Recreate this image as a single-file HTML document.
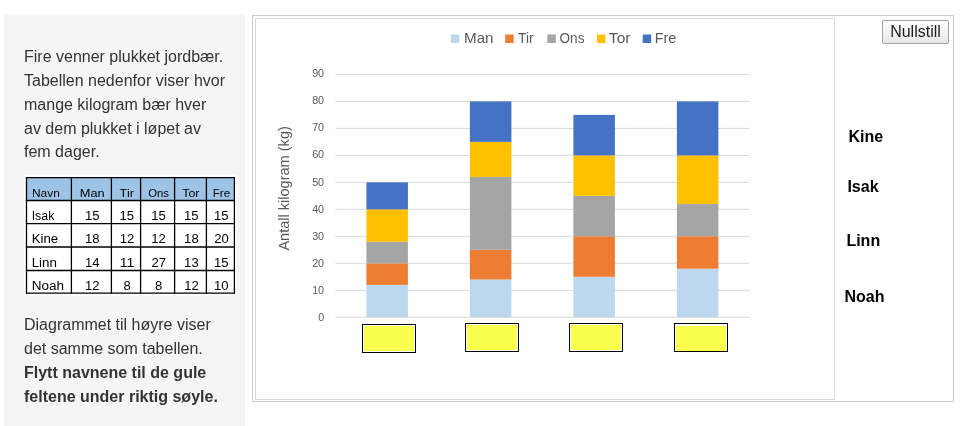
<!DOCTYPE html>
<html lang="nb"><head><meta charset="utf-8"><title>Jordbær</title>
<style>
html,body{margin:0;padding:0;background:#fff;}
body{width:962px;height:426px;overflow:hidden;position:relative;font-family:"Liberation Sans",Arial,sans-serif;color:#333;}
.panel{position:absolute;left:4px;top:15px;width:241px;height:430px;background:#f5f5f5;}
.p{position:absolute;left:24px;margin:0;font-size:16px;line-height:23.7px;white-space:nowrap;color:#333;}
.outer{position:absolute;left:252px;top:15px;width:700px;height:385px;border:1px solid #ccc;background:#fff;}
.inner{position:absolute;left:255px;top:18px;width:578px;height:380px;border:1px solid #d9d9d9;background:#fff;}
svg{position:absolute;left:0;top:0;font-family:"Liberation Sans",Arial,sans-serif;}
.btn{position:absolute;left:882px;top:20px;width:67px;height:24px;box-sizing:border-box;border:1px solid #a3a3a3;border-radius:2px;background:linear-gradient(#fefefe,#f4f4f4 50%,#e8e8e8);font:16px/22px "Liberation Sans",Arial,sans-serif;color:#1c1c1c;padding:0;text-align:center;}
.nm{position:absolute;font-weight:bold;font-size:16px;line-height:16px;color:#000;white-space:nowrap;}
</style></head><body>
<div class="panel"></div>
<p class="p" style="top:45.4px">Fire venner plukket jordbær.<br>Tabellen nedenfor viser hvor<br>mange kilogram bær hver<br>av dem plukket i løpet av<br>fem dager.</p>
<p class="p" style="top:313.4px">Diagrammet til høyre viser<br>det samme som tabellen.<br><b>Flytt navnene til de gule<br>feltene under riktig søyle.</b></p>
<div class="outer"></div>
<div class="inner"></div>
<svg width="962" height="426" viewBox="0 0 962 426">
<rect x="24" y="175" width="213" height="121" fill="#fff"/>
<rect x="26.5" y="177.6" width="207.9" height="22.900000000000006" fill="#9DC3E6"/>
<line x1="26.5" x2="26.5" y1="177.0" y2="293.70000000000005" stroke="#000" stroke-width="1.3"/>
<line x1="71.4" x2="71.4" y1="177.0" y2="293.70000000000005" stroke="#000" stroke-width="1.3"/>
<line x1="111.4" x2="111.4" y1="177.0" y2="293.70000000000005" stroke="#000" stroke-width="1.3"/>
<line x1="140.6" x2="140.6" y1="177.0" y2="293.70000000000005" stroke="#000" stroke-width="1.3"/>
<line x1="174.6" x2="174.6" y1="177.0" y2="293.70000000000005" stroke="#000" stroke-width="1.3"/>
<line x1="206.4" x2="206.4" y1="177.0" y2="293.70000000000005" stroke="#000" stroke-width="1.3"/>
<line x1="234.4" x2="234.4" y1="177.0" y2="293.70000000000005" stroke="#000" stroke-width="1.3"/>
<line x1="25.9" x2="235.0" y1="177.6" y2="177.6" stroke="#000" stroke-width="1.3"/>
<line x1="25.9" x2="235.0" y1="200.5" y2="200.5" stroke="#000" stroke-width="1.3"/>
<line x1="25.9" x2="235.0" y1="223.6" y2="223.6" stroke="#000" stroke-width="1.3"/>
<line x1="25.9" x2="235.0" y1="247" y2="247" stroke="#000" stroke-width="1.3"/>
<line x1="25.9" x2="235.0" y1="270.5" y2="270.5" stroke="#000" stroke-width="1.3"/>
<line x1="25.9" x2="235.0" y1="293.1" y2="293.1" stroke="#000" stroke-width="1.3"/>
<text x="32.02" y="196.70" font-size="10.6" fill="#000" textLength="27.75" lengthAdjust="spacingAndGlyphs">Navn</text>
<text x="79.85" y="196.70" font-size="10.6" fill="#000" textLength="24.88" lengthAdjust="spacingAndGlyphs">Man</text>
<text x="119.62" y="196.70" font-size="10.6" fill="#000" textLength="14.38" lengthAdjust="spacingAndGlyphs">Tir</text>
<text x="148.16" y="196.70" font-size="10.6" fill="#000" textLength="20.85" lengthAdjust="spacingAndGlyphs">Ons</text>
<text x="182.24" y="196.70" font-size="10.6" fill="#000" textLength="17.25" lengthAdjust="spacingAndGlyphs">Tor</text>
<text x="212.74" y="196.70" font-size="10.6" fill="#000" textLength="17.47" lengthAdjust="spacingAndGlyphs">Fre</text>
<text x="31.66" y="219.80" font-size="12" fill="#000" textLength="22.73" lengthAdjust="spacingAndGlyphs">Isak</text>
<text x="85.00" y="219.80" font-size="12" fill="#000" textLength="14.55" lengthAdjust="spacingAndGlyphs">15</text>
<text x="119.60" y="219.80" font-size="12" fill="#000" textLength="14.55" lengthAdjust="spacingAndGlyphs">15</text>
<text x="151.20" y="219.80" font-size="12" fill="#000" textLength="14.55" lengthAdjust="spacingAndGlyphs">15</text>
<text x="184.10" y="219.80" font-size="12" fill="#000" textLength="14.55" lengthAdjust="spacingAndGlyphs">15</text>
<text x="214.00" y="219.80" font-size="12" fill="#000" textLength="14.55" lengthAdjust="spacingAndGlyphs">15</text>
<text x="31.71" y="243.00" font-size="12" fill="#000" textLength="26.47" lengthAdjust="spacingAndGlyphs">Kine</text>
<text x="85.01" y="243.00" font-size="12" fill="#000" textLength="14.55" lengthAdjust="spacingAndGlyphs">18</text>
<text x="119.66" y="243.00" font-size="12" fill="#000" textLength="14.55" lengthAdjust="spacingAndGlyphs">12</text>
<text x="151.26" y="243.00" font-size="12" fill="#000" textLength="14.55" lengthAdjust="spacingAndGlyphs">12</text>
<text x="184.11" y="243.00" font-size="12" fill="#000" textLength="14.55" lengthAdjust="spacingAndGlyphs">18</text>
<text x="214.15" y="243.00" font-size="12" fill="#000" textLength="14.55" lengthAdjust="spacingAndGlyphs">20</text>
<text x="31.70" y="266.60" font-size="12" fill="#000" textLength="25.26" lengthAdjust="spacingAndGlyphs">Linn</text>
<text x="84.92" y="266.60" font-size="12" fill="#000" textLength="14.55" lengthAdjust="spacingAndGlyphs">14</text>
<text x="119.65" y="266.60" font-size="12" fill="#000" textLength="14.55" lengthAdjust="spacingAndGlyphs">11</text>
<text x="151.43" y="266.60" font-size="12" fill="#000" textLength="14.55" lengthAdjust="spacingAndGlyphs">27</text>
<text x="184.11" y="266.60" font-size="12" fill="#000" textLength="14.55" lengthAdjust="spacingAndGlyphs">13</text>
<text x="214.00" y="266.60" font-size="12" fill="#000" textLength="14.55" lengthAdjust="spacingAndGlyphs">15</text>
<text x="31.69" y="289.70" font-size="12" fill="#000" textLength="32.39" lengthAdjust="spacingAndGlyphs">Noah</text>
<text x="85.06" y="289.70" font-size="12" fill="#000" textLength="14.55" lengthAdjust="spacingAndGlyphs">12</text>
<text x="123.46" y="289.70" font-size="12" fill="#000" textLength="7.27" lengthAdjust="spacingAndGlyphs">8</text>
<text x="155.06" y="289.70" font-size="12" fill="#000" textLength="7.27" lengthAdjust="spacingAndGlyphs">8</text>
<text x="184.16" y="289.70" font-size="12" fill="#000" textLength="14.55" lengthAdjust="spacingAndGlyphs">12</text>
<text x="213.98" y="289.70" font-size="12" fill="#000" textLength="14.55" lengthAdjust="spacingAndGlyphs">10</text>
<line x1="335.4" x2="749.4" y1="317.25" y2="317.25" stroke="#d9d9d9" stroke-width="1"/>
<text x="318.13" y="321.00" font-size="11" fill="#595959" textLength="6.00" lengthAdjust="spacingAndGlyphs">0</text>
<line x1="335.4" x2="749.4" y1="290.27" y2="290.27" stroke="#d9d9d9" stroke-width="1"/>
<text x="312.13" y="293.91" font-size="11" fill="#595959" textLength="11.99" lengthAdjust="spacingAndGlyphs">10</text>
<line x1="335.4" x2="749.4" y1="263.29" y2="263.29" stroke="#d9d9d9" stroke-width="1"/>
<text x="312.13" y="266.82" font-size="11" fill="#595959" textLength="11.99" lengthAdjust="spacingAndGlyphs">20</text>
<line x1="335.4" x2="749.4" y1="236.31" y2="236.31" stroke="#d9d9d9" stroke-width="1"/>
<text x="312.13" y="239.73" font-size="11" fill="#595959" textLength="11.99" lengthAdjust="spacingAndGlyphs">30</text>
<line x1="335.4" x2="749.4" y1="209.33" y2="209.33" stroke="#d9d9d9" stroke-width="1"/>
<text x="312.13" y="212.64" font-size="11" fill="#595959" textLength="11.99" lengthAdjust="spacingAndGlyphs">40</text>
<line x1="335.4" x2="749.4" y1="182.35" y2="182.35" stroke="#d9d9d9" stroke-width="1"/>
<text x="312.13" y="185.55" font-size="11" fill="#595959" textLength="11.99" lengthAdjust="spacingAndGlyphs">50</text>
<line x1="335.4" x2="749.4" y1="155.37" y2="155.37" stroke="#d9d9d9" stroke-width="1"/>
<text x="312.13" y="158.46" font-size="11" fill="#595959" textLength="11.99" lengthAdjust="spacingAndGlyphs">60</text>
<line x1="335.4" x2="749.4" y1="128.39" y2="128.39" stroke="#d9d9d9" stroke-width="1"/>
<text x="312.13" y="131.37" font-size="11" fill="#595959" textLength="11.99" lengthAdjust="spacingAndGlyphs">70</text>
<line x1="335.4" x2="749.4" y1="101.41" y2="101.41" stroke="#d9d9d9" stroke-width="1"/>
<text x="312.13" y="104.28" font-size="11" fill="#595959" textLength="11.99" lengthAdjust="spacingAndGlyphs">80</text>
<line x1="335.4" x2="749.4" y1="74.43" y2="74.43" stroke="#d9d9d9" stroke-width="1"/>
<text x="312.13" y="77.19" font-size="11" fill="#595959" textLength="11.99" lengthAdjust="spacingAndGlyphs">90</text>
<rect x="366.40" y="284.87" width="41.5" height="32.38" fill="#BDD7EE"/>
<rect x="366.40" y="263.29" width="41.5" height="21.58" fill="#ED7D31"/>
<rect x="366.40" y="241.71" width="41.5" height="21.58" fill="#A5A5A5"/>
<rect x="366.40" y="209.33" width="41.5" height="32.38" fill="#FFC000"/>
<rect x="366.40" y="182.35" width="41.5" height="26.98" fill="#4472C4"/>
<rect x="469.90" y="279.48" width="41.5" height="37.77" fill="#BDD7EE"/>
<rect x="469.90" y="249.80" width="41.5" height="29.68" fill="#ED7D31"/>
<rect x="469.90" y="176.95" width="41.5" height="72.85" fill="#A5A5A5"/>
<rect x="469.90" y="141.88" width="41.5" height="35.07" fill="#FFC000"/>
<rect x="469.90" y="101.41" width="41.5" height="40.47" fill="#4472C4"/>
<rect x="573.40" y="276.78" width="41.5" height="40.47" fill="#BDD7EE"/>
<rect x="573.40" y="236.31" width="41.5" height="40.47" fill="#ED7D31"/>
<rect x="573.40" y="195.84" width="41.5" height="40.47" fill="#A5A5A5"/>
<rect x="573.40" y="155.37" width="41.5" height="40.47" fill="#FFC000"/>
<rect x="573.40" y="114.90" width="41.5" height="40.47" fill="#4472C4"/>
<rect x="676.90" y="268.69" width="41.5" height="48.56" fill="#BDD7EE"/>
<rect x="676.90" y="236.31" width="41.5" height="32.38" fill="#ED7D31"/>
<rect x="676.90" y="203.93" width="41.5" height="32.38" fill="#A5A5A5"/>
<rect x="676.90" y="155.37" width="41.5" height="48.56" fill="#FFC000"/>
<rect x="676.90" y="101.41" width="41.5" height="53.96" fill="#4472C4"/>
<rect x="450.9" y="34.5" width="8.5" height="8.5" fill="#BDD7EE"/>
<text x="463.95" y="42.80" font-size="13.8" fill="#595959" textLength="29.64" lengthAdjust="spacingAndGlyphs">Man</text>
<rect x="505.2" y="34.5" width="8.5" height="8.5" fill="#ED7D31"/>
<text x="517.90" y="42.80" font-size="13.8" fill="#595959" textLength="15.73" lengthAdjust="spacingAndGlyphs">Tir</text>
<rect x="547.3" y="34.5" width="8.5" height="8.5" fill="#A5A5A5"/>
<text x="559.56" y="42.80" font-size="13.8" fill="#595959" textLength="24.94" lengthAdjust="spacingAndGlyphs">Ons</text>
<rect x="597.0" y="34.5" width="8.5" height="8.5" fill="#FFC000"/>
<text x="608.88" y="42.80" font-size="13.8" fill="#595959" textLength="21.66" lengthAdjust="spacingAndGlyphs">Tor</text>
<rect x="642.7" y="34.5" width="8.5" height="8.5" fill="#4472C4"/>
<text x="654.71" y="42.80" font-size="13.8" fill="#595959" textLength="21.73" lengthAdjust="spacingAndGlyphs">Fre</text>
<text transform="translate(289,250.60) rotate(-90)" x="-0.03" y="0" font-size="13.8" fill="#595959" textLength="124.43" lengthAdjust="spacingAndGlyphs">Antall kilogram (kg)</text>
<rect x="362.5" y="324.5" width="53" height="28" fill="#fff" stroke="#000" stroke-width="1"/>
<rect x="364" y="326" width="50" height="25" fill="#FBFF4D"/>
<rect x="465.5" y="323.5" width="53" height="28" fill="#fff" stroke="#000" stroke-width="1"/>
<rect x="467" y="325" width="50" height="25" fill="#FBFF4D"/>
<rect x="569.5" y="323.5" width="53" height="28" fill="#fff" stroke="#000" stroke-width="1"/>
<rect x="571" y="325" width="50" height="25" fill="#FBFF4D"/>
<rect x="674.5" y="323.5" width="53" height="28" fill="#fff" stroke="#000" stroke-width="1"/>
<rect x="676" y="326" width="50" height="25" fill="#FBFF4D"/>
</svg>
<div class="btn">Nullstill</div>
<div class="nm" style="left:848.4px;top:129px">Kine</div>
<div class="nm" style="left:847.4px;top:179.3px">Isak</div>
<div class="nm" style="left:846.4px;top:233.4px">Linn</div>
<div class="nm" style="left:844.5px;top:289.4px">Noah</div>
</body></html>
